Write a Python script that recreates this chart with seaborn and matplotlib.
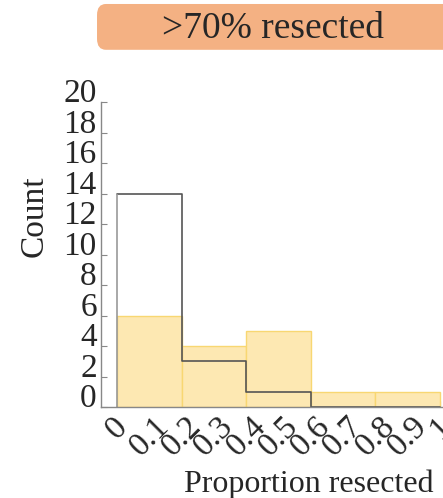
"""Histogram of proportion resected (>70% resected group)."""

import matplotlib

matplotlib.use("Agg")

import matplotlib.pyplot as plt
import seaborn as sns
from matplotlib.patches import FancyBboxPatch

# bins of the proportion resected
bin_edges = [0.0, 0.2, 0.4, 0.6, 0.8, 1.0]
bin_mids = [0.1, 0.3, 0.5, 0.7, 0.9]
# filled (yellow) histogram counts
filled_counts = [6, 4, 5, 1, 1]
# outlined histogram counts
outline_counts = [14, 3, 1, 0, 0]

x_ticks = [0.0, 0.1, 0.2, 0.3, 0.4, 0.5, 0.6, 0.7, 0.8, 0.9, 1.0]
x_tick_labels = ["0", "0.1", "0.2", "0.3", "0.4", "0.5", "0.6", "0.7", "0.8", "0.9", "1"]
y_ticks = [0, 2, 4, 6, 8, 10, 12, 14, 16, 18, 20]

title = ">70% resected"

sns.set_style("ticks")
plt.rcParams["font.family"] = ["Liberation Serif", "DejaVu Serif"]

fig = plt.figure(figsize=(4.43, 4.98), dpi=100)
ax = fig.add_axes([0.228, 0.1827, 0.772, 0.612])

sns.histplot(
    x=bin_mids,
    weights=filled_counts,
    bins=bin_edges,
    element="bars",
    facecolor="#fde8b2",
    edgecolor="#f8d772",
    linewidth=1.0,
    alpha=1.0,
    ax=ax,
)
sns.histplot(
    x=bin_mids,
    weights=outline_counts,
    bins=bin_edges,
    element="step",
    fill=False,
    color="#555555",
    linewidth=1.2,
    ax=ax,
)
# left edge of the outlined histogram
ax.vlines(bin_edges[0], 0, outline_counts[0], color="#999999", linewidth=1.2)

ax.set_xlim(-0.05, 1.01)
ax.set_ylim(0, 20)
ax.set_xticks(x_ticks)
ax.set_xticklabels(x_tick_labels, rotation=45, ha="center", va="top", fontsize=24)
ax.set_yticks(y_ticks)
ax.set_yticklabels([str(v) for v in y_ticks], fontsize=24, va="baseline")
ax.tick_params(axis="both", direction="in", length=4, width=0.8, color="#888888", pad=2)
ax.tick_params(axis="x", pad=3)
ax.tick_params(axis="y", pad=3)

for side in ["top", "right"]:
    ax.spines[side].set_visible(False)
for side in ["left", "bottom"]:
    ax.spines[side].set_color("#888888")
    ax.spines[side].set_linewidth(1.0)

ax.set_xlabel("Proportion resected", fontsize=23)
ax.xaxis.set_label_coords(0.607, -0.205)
ax.set_ylabel("Count", fontsize=24)
ax.yaxis.set_label_coords(-0.15, 0.625)

box = FancyBboxPatch(
    (0.219, 0.9),
    0.85,
    0.092,
    boxstyle="round,pad=0,rounding_size=0.02",
    transform=fig.transFigure,
    facecolor="#f4b183",
    edgecolor="none",
    mutation_aspect=1.1,
)
fig.patches.append(box)
fig.text(0.616, 0.942, title, ha="center", va="center", fontsize=27)

fig.savefig("out.png", dpi=100)
